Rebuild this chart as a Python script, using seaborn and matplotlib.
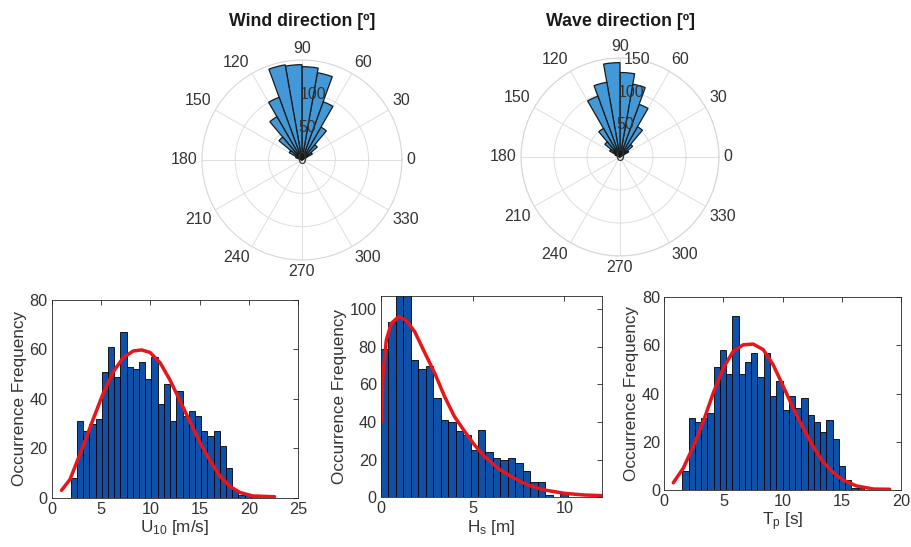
import numpy as np
import pandas as pd
import matplotlib
matplotlib.use("Agg")
import matplotlib.pyplot as plt
import seaborn as sns

# ---------------- data ----------------
# polar histograms (direction bins, degrees; counts)
dir_bin_centers = [35, 45, 55, 65, 75, 85, 95, 105, 115, 125, 135, 145, 155]
dir_bin_width = 10
wind_dir_counts = [18, 30, 57, 93, 133, 140, 143, 145, 100, 75, 45, 22, 10]
wave_dir_counts = [15, 25, 53, 85, 112, 128, 143, 115, 98, 50, 30, 18, 8]
theta_ticks = [0, 30, 60, 90, 120, 150, 180, 210, 240, 270, 300, 330]
wind_r_ticks = [0, 50, 100]
wave_r_ticks = [0, 50, 100, 150]

# U10 histogram
u10_start, u10_width = 1.93, 0.63
u10_counts = [8, 31, 27, 30, 32, 51, 61, 49, 67, 53, 52, 55, 48, 57, 38, 46,
              31, 43, 33, 35, 33, 27, 25, 27, 21, 12, 3, 1, 1, 1, 0, 1]
u10_fit_x = [1.0, 1.86, 3.2, 4.2, 5.2, 6.25, 7.26, 8.28, 9.12, 9.97, 11.0, 12.0,
             13.0, 14.0, 15.0, 16.05, 17.06, 18.07, 19.1, 20.4, 22.6]
u10_fit_y = [3.0, 7.4, 21, 31.7, 42, 51, 56.7, 59.4, 59.8, 58.8, 54.6, 47.6,
             39.3, 31, 22.6, 15, 8.75, 4.6, 2.1, 0.7, 0.4]
u10_xticks = [0, 5, 10, 15, 20, 25]
u10_yticks = [0, 20, 40, 60, 80]

# Hs histogram
hs_start, hs_width = 0.0, 0.407
hs_counts = [79, 93, 110, 108, 73, 68, 70, 53, 41, 40, 35, 33, 25, 36, 24, 21,
             20, 21, 18, 14, 8, 8, 1, 0, 2]
hs_fit_x = [0.02, 0.11, 0.29, 0.56, 0.96, 1.38, 1.84, 2.38, 2.93, 3.47, 4.0,
            4.56, 5.1, 5.65, 6.38, 7.1, 8.0, 8.9, 10.0, 11.1, 12.0]
hs_fit_y = [40, 66, 83.5, 92.4, 96, 94, 88, 77, 66, 53.5, 43, 35, 27.8, 21.6,
            15.4, 11, 6.5, 3.9, 2.1, 1.2, 0.9]
hs_xticks = [0, 5, 10]
hs_yticks = [0, 20, 40, 60, 80, 100]

# Tp histogram
tp_start, tp_width = 1.52, 0.53
tp_counts = [8, 30, 28, 30, 32, 51, 58, 48, 72, 48, 53, 57, 47, 57, 39, 45,
             33, 39, 34, 38, 31, 28, 24, 29, 21, 10, 4, 1, 1, 0, 1]
tp_fit_x = [0.76, 1.6, 2.45, 3.3, 4.14, 4.99, 5.83, 6.68, 7.52, 8.37, 9.2,
            10.06, 10.9, 11.75, 12.6, 13.4, 14.3, 15.1, 16.25, 17.7, 19.07]
tp_fit_y = [3, 9, 18, 28.4, 40.2, 50.6, 57.5, 60.2, 60.5, 58.2, 52, 43, 34,
            25.6, 18, 11.8, 7.2, 4.2, 1.7, 0.4, 0.3]
tp_xticks = [0, 5, 10, 15, 20]
tp_yticks = [0, 20, 40, 60, 80]

# ---------------- style ----------------
sns.set_style("white")
plt.rcParams["font.family"] = ["Liberation Sans", "DejaVu Sans"]
plt.rcParams["mathtext.fontset"] = "custom"
plt.rcParams["mathtext.rm"] = "Liberation Sans"
plt.rcParams["mathtext.it"] = "Liberation Sans:italic"

TXT = "#262626"
LBL = "#333333"
BAR_BLUE = "#1050A8"
POLAR_BLUE = "#4399D8"
RED = "#E8161B"

fig = plt.figure(figsize=(9.11, 5.47), dpi=100)


def polar_panel(rect, counts, rticks):
    ax = fig.add_axes(rect, projection="polar")
    ax.bar(np.deg2rad(dir_bin_centers), counts, width=np.deg2rad(dir_bin_width),
           color=POLAR_BLUE, edgecolor="#1a1a1a", linewidth=0.9, zorder=2)
    rmax = 150
    ax.set_ylim(0, rmax)
    ax.set_xticks(np.deg2rad(theta_ticks))
    ax.set_xticklabels([])
    # theta labels placed just outside the rim, aligned away from the centre
    for t in theta_ticks:
        c, s = np.cos(np.deg2rad(t)), np.sin(np.deg2rad(t))
        ha = "left" if c > 0.2 else ("right" if c < -0.2 else "center")
        va = "bottom" if s > 0.2 else ("top" if s < -0.2 else "center")
        ax.text(np.deg2rad(t), rmax * 1.045, str(t), fontsize=11.5, color=LBL,
                ha=ha, va=va, clip_on=False)
    ax.set_yticks([r for r in rticks if r > 0])
    ax.set_yticklabels([])
    for r in rticks:
        ax.text(np.deg2rad(80), r, str(r), fontsize=11.5, color=LBL,
                ha="center", va="center", zorder=5)
    ax.grid(True, color="#dedede", linewidth=0.7)
    ax.spines["polar"].set_color("#d6d6d6")
    ax.spines["polar"].set_linewidth(0.8)
    ax.set_axisbelow(True)
    ax.set_facecolor("white")
    return ax


def hist_panel(rect, start, width, counts, fx, fy, xticks, yticks, xlim, ylim, xlabel):
    ax = fig.add_axes(rect)
    n = len(counts)
    centers = start + width * (np.arange(n) + 0.5)
    df = pd.DataFrame({"value": centers, "count": np.asarray(counts, float)})
    sns.histplot(data=df, x="value", weights="count", bins=n,
                 binrange=(start, start + width * n), ax=ax, color=BAR_BLUE,
                 edgecolor="black", linewidth=0.6, alpha=1)
    fit = pd.DataFrame({"x": fx, "y": fy})
    sns.lineplot(data=fit, x="x", y="y", ax=ax, color=RED, linewidth=2.5, sort=False)
    ax.set_xlim(*xlim)
    ax.set_ylim(*ylim)
    ax.set_xticks(xticks)
    ax.set_yticks(yticks)
    ax.tick_params(direction="in", top=True, right=True, length=3.5, width=0.6,
                   colors=TXT, labelsize=11.7, labelcolor=LBL, pad=3)
    for s in ax.spines.values():
        s.set_color(TXT)
        s.set_linewidth(0.6)
    ax.set_ylabel("Occurrence Frequency", fontsize=12.3, color=LBL, labelpad=2)
    ax.set_xlabel(xlabel, fontsize=12.3, color=LBL, labelpad=1)
    return ax


polar_panel([0.2217, 0.5247, 0.2195, 0.3656], wind_dir_counts, wind_r_ticks)
polar_panel([0.5719, 0.5320, 0.2173, 0.3620], wave_dir_counts, wave_r_ticks)
fig.text(302 / 911, 1 - 21 / 547, "Wind direction [º]", ha="center", va="center",
         fontsize=12.8, fontweight="bold", color="#1a1a1a")
fig.text(620 / 911, 1 - 21 / 547, "Wave direction [º]", ha="center", va="center",
         fontsize=12.8, fontweight="bold", color="#1a1a1a")

hist_panel([0.0567, 0.0901, 0.2707, 0.3614], u10_start, u10_width, u10_counts,
           u10_fit_x, u10_fit_y, u10_xticks, u10_yticks, (0, 25), (0, 80),
           r"U$_{\mathregular{10}}$ [m/s]")
hist_panel([0.4182, 0.0909, 0.2426, 0.3680], hs_start, hs_width, hs_counts,
           hs_fit_x, hs_fit_y, hs_xticks, hs_yticks, (0, 12.05), (0, 107),
           r"H$_{\mathregular{s}}$ [m]")
hist_panel([0.7292, 0.1042, 0.2595, 0.3528], tp_start, tp_width, tp_counts,
           tp_fit_x, tp_fit_y, tp_xticks, tp_yticks, (0, 20), (0, 80),
           r"T$_{\mathregular{p}}$ [s]")

fig.savefig("out.png", dpi=100, facecolor="white")
